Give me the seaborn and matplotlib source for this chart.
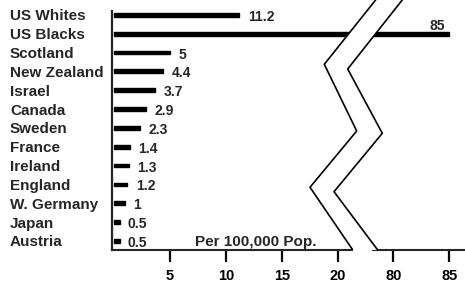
import matplotlib.pyplot as plt
import seaborn as sns
from matplotlib.patches import Polygon
from matplotlib.lines import Line2D

# rates per 100,000 population
countries = ['US Whites', 'US Blacks', 'Scotland', 'New Zealand', 'Israel', 'Canada',
             'Sweden', 'France', 'Ireland', 'England', 'W. Germany', 'Japan', 'Austria']
rates = [11.2, 85, 5, 4.4, 3.7, 2.9, 2.3, 1.4, 1.3, 1.2, 1, 0.5, 0.5]
rate_labels = ['11.2', '85', '5', '4.4', '3.7', '2.9', '2.3', '1.4', '1.3', '1.2', '1', '0.5', '0.5']
left_ticks = [5, 10, 15, 20]
right_ticks = [80, 85]

sns.set_style('white')
plt.rcParams['font.family'] = ['Liberation Sans', 'DejaVu Sans']
plt.rcParams['font.weight'] = 'bold'
plt.rcParams['font.size'] = 10.5

W, H = 465, 285
fig = plt.figure(figsize=(W / 100, H / 100), dpi=100)
ax_l = fig.add_axes([112 / W, 1 - 250 / H, 240 / W, 239 / H])
ax_r = fig.add_axes([373 / W, 1 - 250 / H, 92 / W, 239 / H])

for ax in (ax_l, ax_r):
    sns.barplot(x=rates, y=countries, orient='h', color='black', saturation=1,
                width=0.2, edgecolor='black', linewidth=1.0, ax=ax)
    ax.set_ylim(12.48, -0.2)
    ax.set_xlabel('')
    ax.set_ylabel('')
    ax.spines['top'].set_visible(False)
    ax.spines['right'].set_visible(False)
    ax.spines['bottom'].set_linewidth(1.5)
    ax.tick_params(axis='x', direction='out', length=8.6, width=1.6, pad=5,
                   labelsize=10.5, colors='black', bottom=True)

# left part of broken axis
ax_l.set_xlim(-0.18, 21.25)
ax_l.set_xticks(left_ticks)
ax_l.spines['left'].set_linewidth(1.6)
ax_l.set_yticks(range(len(countries)))
ax_l.set_yticklabels(countries, ha='left', fontweight='bold')
ax_l.tick_params(axis='y', length=0, pad=73.5, labelsize=11)

# right part of broken axis
ax_r.set_xlim(78.2, 86.4)
ax_r.set_xticks(right_ticks)
ax_r.spines['left'].set_visible(False)
ax_r.set_yticks([])

for i, (v, lab) in enumerate(zip(rates, rate_labels)):
    if v > 21:
        ax_r.annotate(lab, (v, i), xytext=(-3, 0.5), textcoords='offset points',
                      ha='right', va='bottom', fontsize=10, fontweight='bold')
    else:
        ax_l.annotate(lab, (v, i), xytext=(6, -1.5), textcoords='offset points',
                      ha='left', va='center', fontsize=10, fontweight='bold')

ax_l.text(7.23, 12.05, 'Per 100,000 Pop.', ha='left', va='center',
          fontsize=11, fontweight='bold')

# zigzag break marks (pixel coords, top-left origin)
left_zig = [(382, -8), (324.3, 64.3), (356.7, 131), (310, 187.3), (352.3, 249.3)]
right_zig = [(407, -6), (347.7, 69), (382.3, 133.3), (334, 191.7), (377.7, 250)]


def to_fig(pts):
    return [(x / W, 1 - y / H) for x, y in pts]


gap = Polygon(to_fig(left_zig + right_zig[::-1]), closed=True, facecolor='white',
              edgecolor='none', transform=fig.transFigure, zorder=5)
fig.add_artist(gap)
for zig in (left_zig, right_zig):
    xs, ys = zip(*to_fig(zig))
    fig.add_artist(Line2D(xs, ys, color='black', linewidth=1.2,
                          transform=fig.transFigure, zorder=6))

fig.savefig('out.png', dpi=100)
